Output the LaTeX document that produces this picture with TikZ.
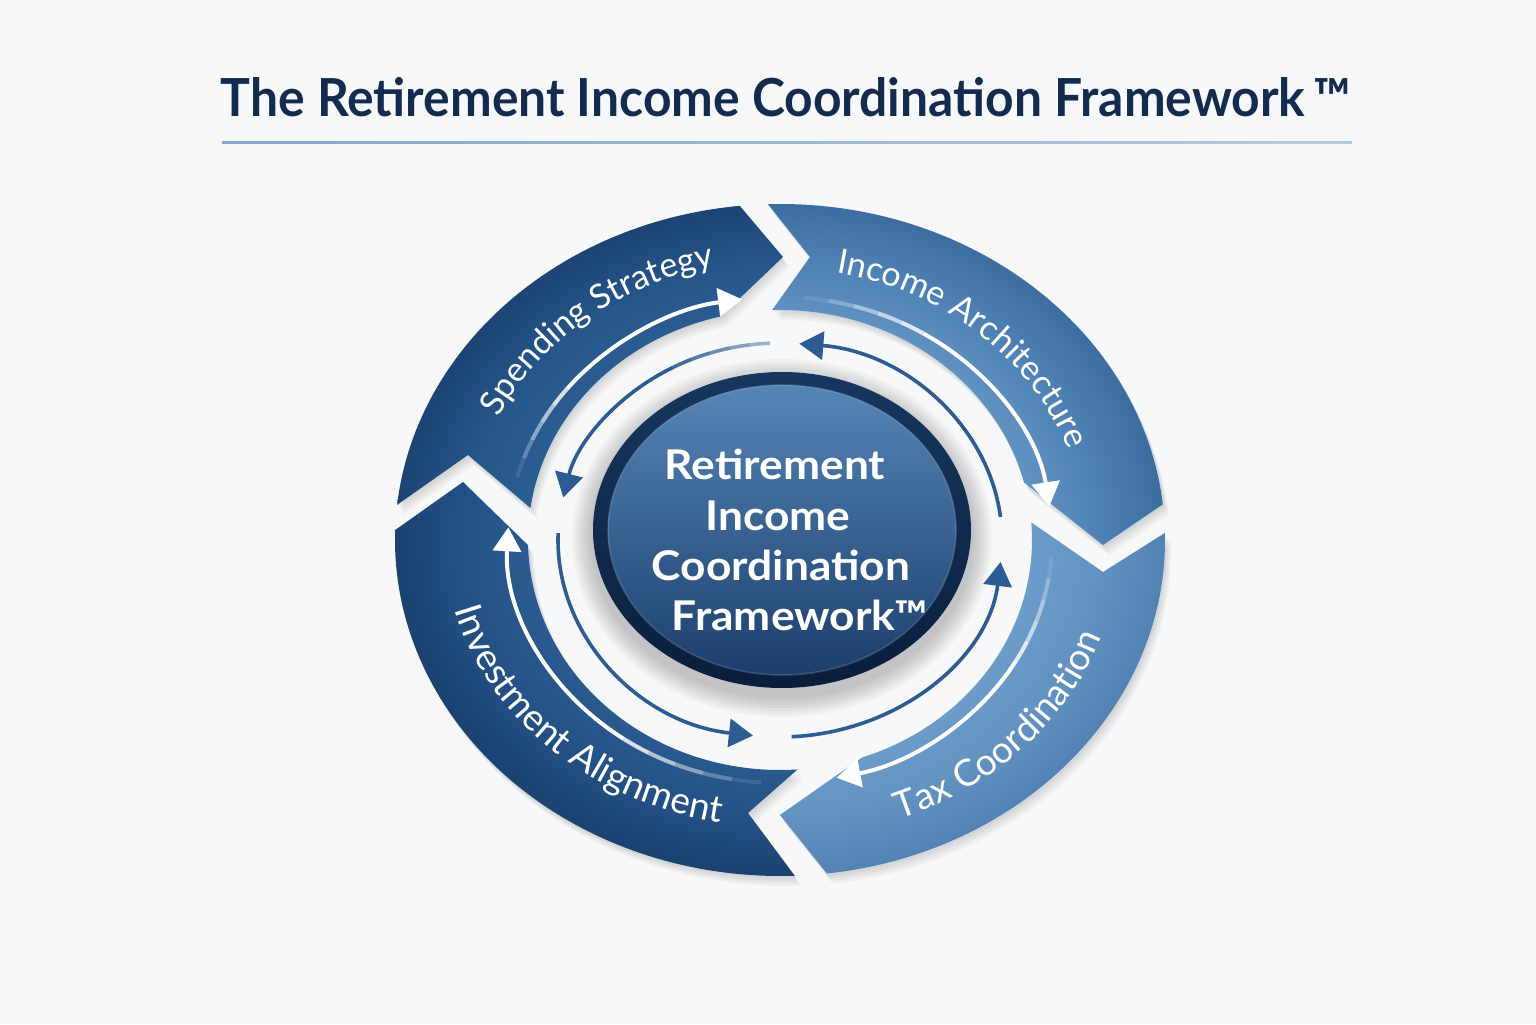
\documentclass[tikz,border=0pt]{standalone}
\usepackage{fontspec}
\usepackage{graphicx}
\setmainfont{Lato}
\usetikzlibrary{arrows.meta,decorations.text,calc}

\definecolor{bg}{HTML}{F7F8FA}
\definecolor{titlec}{HTML}{142B50}
\definecolor{linea}{HTML}{86A6CA}
\definecolor{lineb}{HTML}{B7C9DD}
\definecolor{spA}{HTML}{2D5F94}
\definecolor{spB}{HTML}{26568A}
\definecolor{spC}{HTML}{1B4372}
\definecolor{inA}{HTML}{6597C5}
\definecolor{inB}{HTML}{5083B6}
\definecolor{inC}{HTML}{3A6B9F}
\definecolor{txA}{HTML}{6E9ECA}
\definecolor{txB}{HTML}{6394C2}
\definecolor{txC}{HTML}{5081B2}
\definecolor{ivA}{HTML}{2C5C91}
\definecolor{ivB}{HTML}{245287}
\definecolor{ivC}{HTML}{1A406E}
\definecolor{arcblue}{HTML}{2C5C92}
\definecolor{bandtop}{HTML}{17375F}
\definecolor{bandbot}{HTML}{0A1E3C}
\definecolor{ftop}{HTML}{5585B6}
\definecolor{fmid}{HTML}{2D5B8C}
\definecolor{fbot}{HTML}{1C3F6C}

\pgfdeclareradialshading{shSp}{\pgfpoint{0bp}{0bp}}{color(0bp)=(spA); color(15bp)=(spA); color(19.5bp)=(spB); color(24.5bp)=(spC); color(50bp)=(spC)}
\pgfdeclareradialshading{shIn}{\pgfpoint{0bp}{0bp}}{color(0bp)=(inA); color(15bp)=(inA); color(19.5bp)=(inB); color(24.5bp)=(inC); color(50bp)=(inC)}
\pgfdeclareradialshading{shTx}{\pgfpoint{0bp}{0bp}}{color(0bp)=(txA); color(15bp)=(txA); color(19.5bp)=(txB); color(24.5bp)=(txC); color(50bp)=(txC)}
\pgfdeclareradialshading{shIv}{\pgfpoint{0bp}{0bp}}{color(0bp)=(ivA); color(15bp)=(ivA); color(19.5bp)=(ivB); color(24.5bp)=(ivC); color(50bp)=(ivC)}

% ring segment: #1 outer tail angle, #2 inner tail angle, #3 notch, #4 outer head angle, #5 inner head angle, #6 tip
\newcommand\ringseg[6]{({780+385*cos(#1)},{484+336*sin(#1)}) arc[start angle=#1,end angle=#4,x radius=385,y radius=336] -- (#6) -- ({780+252*cos(#5)},{484+230*sin(#5)}) arc[start angle=#5,end angle=#2,x radius=252,y radius=230] -- (#3) -- cycle}

\newcommand\segfont{\fontsize{17}{20}\selectfont}
\newcommand\segfontb{\fontsize{18.5}{22}\selectfont}

% fading arc with arrow: #1 a, #2 b, #3 t0, #4 t1, #5 style, #6 first opacity
\newcommand\fadearc[6]{%
  \foreach \k in {0,1,2,3,4}{%
    \pgfmathsetmacro\faA{#3+(#4-#3)*\k*0.07}%
    \pgfmathsetmacro\faB{#3+(#4-#3)*(\k+1)*0.07}%
    \pgfmathsetmacro\faO{#6+(1-#6)*\k/5}%
    \draw[#5,draw opacity=\faO] ({780+#1*cos(\faA)},{484+#2*sin(\faA)}) arc[start angle=\faA,end angle=\faB,x radius=#1,y radius=#2];
  }%
  \pgfmathsetmacro\faC{#3+(#4-#3)*0.35}%
  \draw[#5,-{Triangle[length=12pt,width=14pt]}] ({780+#1*cos(\faC)},{484+#2*sin(\faC)}) arc[start angle=\faC,end angle=#4,x radius=#1,y radius=#2];
}

\tikzset{
  whitearc/.style={draw=white,line width=2pt},
  bluearc/.style={draw=arcblue,line width=1.8pt},
  segshadow/.style={fill=black,fill opacity=0.035},
  segtext/.style={decorate,decoration={text along path,text={|\segfont|#1},text align=center,text color=white}},
  segtextb/.style={decorate,decoration={text along path,text={|\segfontb|#1},text align=center,text color=white}},
  ctext/.style={text=white,font=\fontsize{20.5}{24}\selectfont\bfseries,anchor=base,inner sep=0pt},
}

\begin{document}
\begin{tikzpicture}[x=0.5pt,y=0.5pt]
\useasboundingbox (0,0) rectangle (1536,1024);
\fill[bg] (0,0) rectangle (1536,1024);

% title
\node[text=titlec,anchor=base,inner sep=0pt] (title) at (786,907)
  {\resizebox{565pt}{19.5pt}{\bfseries The Retirement Income Coordination Framework\,™}};
\shade[left color=linea,right color=lineb] (222,880) rectangle (1352,882.5);

% segment shadows
\foreach \k in {1,2,3,4}{
  \begin{scope}[shift={(1.5*\k,-2.5*\k)}]
    \fill[segshadow] \ringseg{174}{172}{468,569}{96}{103.6}{783,767};
    \fill[segshadow] \ringseg{91.8}{91.8}{810,767}{6.1}{14.5}{1103,479};
    \fill[segshadow] \ringseg{1.2}{4.4}{1103,452}{-83}{-71}{780,209};
    \fill[segshadow] \ringseg{-87.8}{-86}{748,211}{-181.7}{-178.7}{463,542};
  \end{scope}
}

% segments
\begin{scope}
  \clip \ringseg{174}{172}{468,569}{96}{103.6}{783,767};
  \shade[shading=shSp] (780,484) ellipse[x radius=400,y radius=350];
\end{scope}
\begin{scope}
  \clip \ringseg{91.8}{91.8}{810,767}{6.1}{14.5}{1103,479};
  \shade[shading=shIn] (780,484) ellipse[x radius=400,y radius=350];
\end{scope}
\begin{scope}
  \clip \ringseg{1.2}{4.4}{1103,452}{-83}{-71}{780,209};
  \shade[shading=shTx] (780,484) ellipse[x radius=400,y radius=350];
\end{scope}
\begin{scope}
  \clip \ringseg{-87.8}{-86}{748,211}{-181.7}{-178.7}{463,542};
  \shade[shading=shIv] (780,484) ellipse[x radius=400,y radius=350];
\end{scope}

% white arrows inside segments (clockwise)
\fadearc{272}{243}{165}{98}{whitearc}{0.1}
\fadearc{272}{243}{85}{8}{whitearc}{0.1}
\fadearc{272}{243}{-4}{-78}{whitearc}{0.1}
\fadearc{272}{243}{-94}{-183}{whitearc}{0.1}

% segment labels
\path[segtext={Spending Strategy}] ({780+313*cos(174)},{484+280*sin(174)}) arc[start angle=174,end angle=84,x radius=313,y radius=280];
\path[segtext={Income Architecture}] ({780+305*cos(93.5)},{484+272*sin(93.5)}) arc[start angle=93.5,end angle=3.5,x radius=305,y radius=272];
\path[segtextb={Tax Coordination}] ({780+340*cos(-88)},{484+298*sin(-88)}) arc[start angle=-88,end angle=2,x radius=340,y radius=298];
\path[segtextb={Investment Alignment}] ({780+335*cos(-179)},{484+287*sin(-179)}) arc[start angle=-179,end angle=-89,x radius=335,y radius=287];

% blue arrows (counter-clockwise)
\fadearc{222}{197}{92.6}{167.5}{bluearc}{0.45}
\draw[bluearc,-{Triangle[length=12pt,width=14pt]}] ({780+222*cos(6.7)},{484+197*sin(6.7)}) arc[start angle=6.7,end angle=85,x radius=222,y radius=197];
\draw[bluearc,-{Triangle[length=12pt,width=14pt]}] ({780+222*cos(-87)},{484+197*sin(-87)}) arc[start angle=-87,end angle=-6.4,x radius=222,y radius=197];
\draw[bluearc,-{Triangle[length=12pt,width=14pt]}] ({780+222*cos(178)},{484+197*sin(178)}) arc[start angle=178,end angle=263,x radius=222,y radius=197];

% central disc
\foreach \k in {1,...,7}{
  \fill[black,fill opacity=0.03] (782,486) ellipse[x radius={189+3*\k},y radius={158+3*\k}];
}
\shade[top color=bandtop,bottom color=bandbot] (782,494) ellipse[x radius=189,y radius=158];
\shade[top color=ftop,middle color=fmid,bottom color=fbot] (782,494) ellipse[x radius=174,y radius=145];
\draw[white,draw opacity=0.15,line width=0.8pt] (782,494) ellipse[x radius=174,y radius=145];

\node[ctext] (ct1) at (775,544) {\scalebox{1.08}[1]{Retirement}};
\node[ctext] (ct2) at (778,494) {\scalebox{1.08}[1]{Income}};
\node[ctext] (ct3) at (781,444) {\scalebox{1.08}[1]{Coordination}};
\node[ctext] (ct4) at (800,394) {\scalebox{1.08}[1]{Framework™}};
\end{tikzpicture}
\end{document}
